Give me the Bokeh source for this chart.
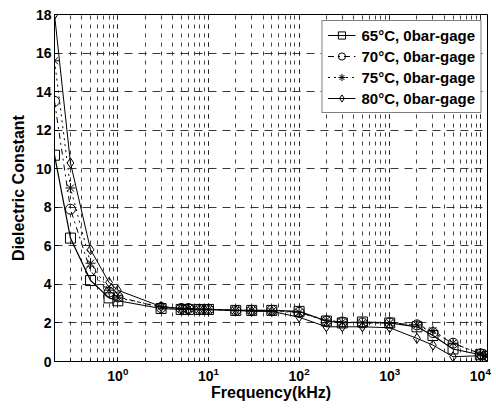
from bokeh.plotting import figure
from bokeh.models import (LogTicker, SingleIntervalTicker, Range1d, Legend, LegendItem)
from bokeh.embed import file_html
from bokeh.resources import INLINE

freq = [0.2, 0.3, 0.5, 0.8, 1, 3, 5, 6, 8, 10, 20, 30, 50, 100, 200, 300, 500,
        1000, 2000, 3000, 5000, 10000, 12000]
eps_65 = [10.7, 6.4, 4.2, 3.3, 3.15, 2.75, 2.7, 2.7, 2.7, 2.7, 2.65, 2.65, 2.65,
          2.6, 2.1, 2.0, 2.05, 2.0, 1.8, 1.35, 0.65, 0.35, 0.25]
eps_70 = [13.5, 7.9, 4.7, 3.6, 3.35, 2.8, 2.75, 2.75, 2.7, 2.7, 2.65, 2.65, 2.65,
          2.55, 2.1, 2.05, 2.0, 2.0, 1.9, 1.5, 0.95, 0.4, 0.3]
eps_75 = [15.6, 9.0, 5.1, 3.7, 3.3, 2.85, 2.75, 2.75, 2.7, 2.7, 2.65, 2.65, 2.6,
          2.55, 2.15, 2.05, 2.0, 2.0, 1.9, 1.6, 0.95, 0.4, 0.3]
eps_80 = [18.0, 10.3, 5.8, 4.1, 3.7, 2.85, 2.75, 2.7, 2.7, 2.7, 2.65, 2.6, 2.6,
          2.3, 1.8, 1.8, 1.8, 1.75, 1.2, 0.85, 0.25, 0.3, 0.2]

labels = ["65°C, 0bar-gage", "70°C, 0bar-gage", "75°C, 0bar-gage", "80°C, 0bar-gage"]
series = [eps_65, eps_70, eps_75, eps_80]
markers = ["square", "circle", "asterisk", "diamond"]
dashes = ["solid", "dashdot", "dotted", "solid"]
widths = [1.2, 1, 1, 1]

FONT = "Liberation Sans"

p = figure(frame_width=433, frame_height=347, x_axis_type="log", output_backend="svg",
           toolbar_location=None, x_range=Range1d(0.2, 12000), y_range=Range1d(0, 18),
           min_border_left=54, min_border_right=5, min_border_top=14, min_border_bottom=36)

p.background_fill_color = "white"
p.outline_line_color = "black"
p.outline_line_width = 1

p.xaxis.ticker = LogTicker(mantissas=[1], num_minor_ticks=10)
p.yaxis.ticker = SingleIntervalTicker(interval=2, num_minor_ticks=0)

for ax in (p.xaxis, p.yaxis):
    ax.major_tick_in = 4
    ax.major_tick_out = 0
    ax.minor_tick_in = 2
    ax.minor_tick_out = 0
    ax.axis_line_color = "black"
    ax.major_label_text_font = FONT
    ax.major_label_text_font_style = "bold"
    ax.major_label_text_font_size = "14px"
    ax.major_label_text_color = "black"
    ax.axis_label_text_font = FONT
    ax.axis_label_text_font_style = "bold"
    ax.axis_label_text_font_size = "16px"
    ax.axis_label_text_color = "black"
p.yaxis.minor_tick_line_color = None
p.xaxis.axis_label = "Frequency(kHz)"
p.yaxis.axis_label = "Dielectric Constant"
p.xaxis.axis_label_standoff = 0
p.yaxis.axis_label_standoff = 6
p.xaxis.major_label_standoff = 5
p.yaxis.major_label_standoff = 3

p.xgrid.grid_line_color = "#222222"
p.xgrid.grid_line_dash = "4 5"
p.xgrid.grid_line_alpha = 0.85
p.xgrid.minor_grid_line_color = "#222222"
p.xgrid.minor_grid_line_dash = "4 5"
p.xgrid.minor_grid_line_alpha = 0.85
p.ygrid.grid_line_color = "#222222"
p.ygrid.grid_line_dash = "8 6"
p.ygrid.grid_line_alpha = 0.9

items = []
for vals, lab, mk, ds, lw in zip(series, labels, markers, dashes, widths):
    r1 = p.line(freq, vals, line_color="black", line_width=lw, line_dash=ds)
    r2 = p.scatter(freq, vals, marker=mk, size=10, line_color="black",
                   fill_color=None, line_width=1)
    items.append(LegendItem(label=lab, renderers=[r1, r2]))

legend = Legend(items=items, location="top_right")
legend.label_text_font = FONT
legend.label_text_font_style = "bold"
legend.label_text_font_size = "15px"
legend.label_text_color = "black"
legend.border_line_color = "black"
legend.border_line_width = 1
legend.background_fill_color = "white"
legend.background_fill_alpha = 1
legend.glyph_width = 28
legend.glyph_height = 18
legend.label_height = 18
legend.spacing = 3
legend.padding = 5
legend.margin = 6
legend.label_standoff = 6
p.add_layout(legend)

open("out.html", "w").write(file_html(p, INLINE))
